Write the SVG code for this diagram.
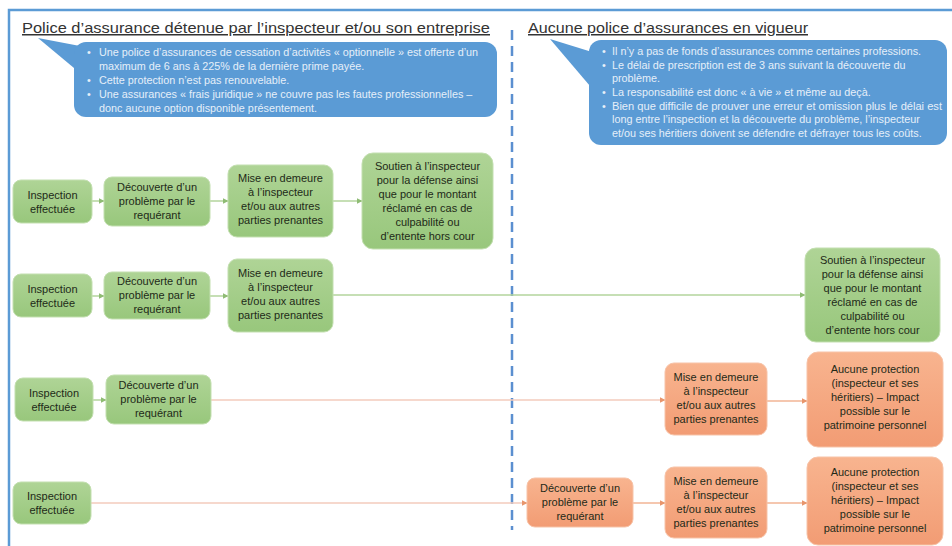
<svg xmlns="http://www.w3.org/2000/svg" width="952" height="546" viewBox="0 0 952 546">
<defs>
<marker id="ag" viewBox="0 0 6 6" refX="5.5" refY="3" markerWidth="6" markerHeight="6" markerUnits="userSpaceOnUse" orient="auto"><path d="M0,0 L6,3 L0,6 Z" fill="#8fbc74"/></marker>
<marker id="ao" viewBox="0 0 6 6" refX="5.5" refY="3" markerWidth="6" markerHeight="6" markerUnits="userSpaceOnUse" orient="auto"><path d="M0,0 L6,3 L0,6 Z" fill="#e8956c"/></marker>
<linearGradient id="gg" x1="0" y1="0" x2="0" y2="1"><stop offset="0" stop-color="#afd496"/><stop offset="1" stop-color="#98c77c"/></linearGradient>
<linearGradient id="go" x1="0" y1="0" x2="0" y2="1"><stop offset="0" stop-color="#f8b48f"/><stop offset="1" stop-color="#f29c74"/></linearGradient>
</defs>
<style>
.frame{stroke:#5b9bd5;stroke-width:2.5;fill:none}
.div{stroke:#5b8fd0;stroke-width:2.5;stroke-dasharray:10 6;fill:none}
.title{font-family:"Liberation Sans",Arial,sans-serif;font-size:15px;fill:#333333;text-decoration:underline}
.call{fill:#5b9bd5}
.ct{font-family:"Liberation Sans",Arial,sans-serif;font-size:10.8px;fill:#e6eff9}
.ng{fill:url(#gg);stroke:#c3dfb0;stroke-width:1}
.no{fill:url(#go);stroke:#f7c3a8;stroke-width:1}
.nt{font-family:"Liberation Sans",Arial,sans-serif;font-size:11px;fill:#1e2a18;text-anchor:middle}
.lg{stroke:#b3d49c;stroke-width:1.5;fill:none;marker-end:url(#ag)}
.lp{stroke:#f3cbbd;stroke-width:1.5;fill:none;marker-end:url(#ao)}
.lo{stroke:#f2b595;stroke-width:1.5;fill:none;marker-end:url(#ao)}
</style>
<rect width="952" height="546" fill="#ffffff"/>
<path class="frame" d="M9,546 L9,10 L952,10"/>
<line class="div" x1="512" y1="30" x2="512" y2="530"/>

<g id="title-left"><text class="title" x="22" y="33" textLength="468" lengthAdjust="spacingAndGlyphs">Police d’assurance détenue par l’inspecteur et/ou son entreprise</text></g>
<g id="title-right"><text class="title" x="528" y="33" textLength="280" lengthAdjust="spacingAndGlyphs">Aucune police d’assurances en vigueur</text></g>

<g id="callout-left">
<polygon class="call" points="38,38 80,46 90,60 74,68"/>
<rect class="call" x="74" y="42" width="423" height="75" rx="12"/>
<text class="ct" x="87" y="56">•</text><text class="ct" x="99" y="56">Une police d’assurances de cessation d’activités « optionnelle » est offerte d’un</text>
<text class="ct" x="99" y="70">maximum de 6 ans à 225% de la dernière prime payée.</text>
<text class="ct" x="87" y="84">•</text><text class="ct" x="99" y="84">Cette protection n’est pas renouvelable.</text>
<text class="ct" x="87" y="98">•</text><text class="ct" x="99" y="98">Une assurances « frais juridique » ne couvre pas les fautes professionnelles –</text>
<text class="ct" x="99" y="112">donc aucune option disponible présentement.</text>
</g>

<g id="callout-right">
<polygon class="call" points="550,39 592,52 600,70 590,86"/>
<rect class="call" x="589" y="40" width="358" height="105" rx="12"/>
<text class="ct" x="602" y="55">•</text><text class="ct" x="612" y="55">Il n’y a pas de fonds d’assurances comme certaines professions.</text>
<text class="ct" x="602" y="69">•</text><text class="ct" x="612" y="69">Le délai de prescription est de 3 ans suivant la découverte du</text>
<text class="ct" x="612" y="82">problème.</text>
<text class="ct" x="602" y="96">•</text><text class="ct" x="612" y="96">La responsabilité est donc « à vie » et même au deçà.</text>
<text class="ct" x="602" y="110">•</text><text class="ct" x="612" y="110" textLength="330" lengthAdjust="spacingAndGlyphs">Bien que difficile de prouver une erreur et omission plus le délai est</text>
<text class="ct" x="612" y="123">long entre l’inspection et la découverte du problème, l’inspecteur</text>
<text class="ct" x="612" y="137">et/ou ses héritiers doivent se défendre et défrayer tous les coûts.</text>
</g>

<g id="connectors">
<line class="lg" x1="92" y1="201" x2="104" y2="201"/>
<line class="lg" x1="210" y1="201" x2="228" y2="201"/>
<line class="lg" x1="333" y1="201" x2="362" y2="201"/>
<line class="lg" x1="92" y1="296" x2="104" y2="296"/>
<line class="lg" x1="210" y1="296" x2="228" y2="296"/>
<line class="lg" x1="333" y1="295" x2="805" y2="295"/>
<line class="lg" x1="93" y1="400" x2="106" y2="400"/>
<line class="lp" x1="211" y1="400" x2="665" y2="400"/>
<line class="lo" x1="767" y1="401" x2="807" y2="401"/>
<line class="lp" x1="91" y1="503" x2="527" y2="503"/>
<line class="lo" x1="633" y1="503" x2="665" y2="503"/>
<line class="lo" x1="767" y1="503" x2="807" y2="503"/>
</g>

<g id="r1-inspection"><rect class="ng" x="13" y="180" width="79" height="43" rx="8"/>
<text class="nt" x="52.5" y="199">Inspection</text><text class="nt" x="52.5" y="213">effectuée</text></g>
<g id="r1-decouverte"><rect class="ng" x="104" y="177" width="106" height="49" rx="8"/>
<text class="nt" x="157" y="191">Découverte d’un</text><text class="nt" x="157" y="205">problème par le</text><text class="nt" x="157" y="219">requérant</text></g>
<g id="r1-mise"><rect class="ng" x="228" y="165" width="105" height="72" rx="9"/>
<text class="nt" x="280.5" y="182">Mise en demeure</text><text class="nt" x="280.5" y="196">à l’inspecteur</text><text class="nt" x="280.5" y="210">et/ou aux autres</text><text class="nt" x="280.5" y="224">parties prenantes</text></g>
<g id="r1-soutien"><rect class="ng" x="362" y="153" width="131" height="96" rx="11"/>
<text class="nt" x="427.5" y="170">Soutien à l’inspecteur</text><text class="nt" x="427.5" y="184">pour la défense ainsi</text><text class="nt" x="427.5" y="198">que pour le montant</text><text class="nt" x="427.5" y="212">réclamé en cas de</text><text class="nt" x="427.5" y="226">culpabilité ou</text><text class="nt" x="427.5" y="240">d’entente hors cour</text></g>

<g id="r2-inspection"><rect class="ng" x="13" y="274" width="79" height="43" rx="8"/>
<text class="nt" x="52.5" y="293">Inspection</text><text class="nt" x="52.5" y="307">effectuée</text></g>
<g id="r2-decouverte"><rect class="ng" x="104" y="272" width="106" height="47" rx="8"/>
<text class="nt" x="157" y="285">Découverte d’un</text><text class="nt" x="157" y="299">problème par le</text><text class="nt" x="157" y="313">requérant</text></g>
<g id="r2-mise"><rect class="ng" x="228" y="259" width="105" height="73" rx="9"/>
<text class="nt" x="280.5" y="277">Mise en demeure</text><text class="nt" x="280.5" y="291">à l’inspecteur</text><text class="nt" x="280.5" y="305">et/ou aux autres</text><text class="nt" x="280.5" y="319">parties prenantes</text></g>
<g id="r2-soutien"><rect class="ng" x="805" y="248" width="135" height="94" rx="11"/>
<text class="nt" x="872.5" y="264">Soutien à l’inspecteur</text><text class="nt" x="872.5" y="278">pour la défense ainsi</text><text class="nt" x="872.5" y="292">que pour le montant</text><text class="nt" x="872.5" y="306">réclamé en cas de</text><text class="nt" x="872.5" y="320">culpabilité ou</text><text class="nt" x="872.5" y="334">d’entente hors cour</text></g>

<g id="r3-inspection"><rect class="ng" x="15" y="378" width="78" height="43" rx="8"/>
<text class="nt" x="54" y="397">Inspection</text><text class="nt" x="54" y="411">effectuée</text></g>
<g id="r3-decouverte"><rect class="ng" x="106" y="375" width="105" height="49" rx="8"/>
<text class="nt" x="158.5" y="389">Découverte d’un</text><text class="nt" x="158.5" y="403">problème par le</text><text class="nt" x="158.5" y="417">requérant</text></g>
<g id="r3-mise"><rect class="no" x="665" y="363" width="102" height="72" rx="9"/>
<text class="nt" x="716" y="381">Mise en demeure</text><text class="nt" x="716" y="395">à l’inspecteur</text><text class="nt" x="716" y="409">et/ou aux autres</text><text class="nt" x="716" y="423">parties prenantes</text></g>
<g id="r3-aucune"><rect class="no" x="807" y="352" width="136" height="95" rx="11"/>
<text class="nt" x="875" y="373">Aucune protection</text><text class="nt" x="875" y="387">(inspecteur et ses</text><text class="nt" x="875" y="401">héritiers) – Impact</text><text class="nt" x="875" y="415">possible sur le</text><text class="nt" x="875" y="429">patrimoine personnel</text></g>

<g id="r4-inspection"><rect class="ng" x="13" y="482" width="78" height="42" rx="8"/>
<text class="nt" x="52" y="500">Inspection</text><text class="nt" x="52" y="514">effectuée</text></g>
<g id="r4-decouverte"><rect class="no" x="527" y="478" width="106" height="49" rx="8"/>
<text class="nt" x="580" y="492">Découverte d’un</text><text class="nt" x="580" y="506">problème par le</text><text class="nt" x="580" y="520">requérant</text></g>
<g id="r4-mise"><rect class="no" x="665" y="467" width="102" height="71" rx="9"/>
<text class="nt" x="716" y="485">Mise en demeure</text><text class="nt" x="716" y="499">à l’inspecteur</text><text class="nt" x="716" y="513">et/ou aux autres</text><text class="nt" x="716" y="527">parties prenantes</text></g>
<g id="r4-aucune"><rect class="no" x="807" y="457" width="136" height="88" rx="11"/>
<text class="nt" x="875" y="476">Aucune protection</text><text class="nt" x="875" y="490">(inspecteur et ses</text><text class="nt" x="875" y="504">héritiers) – Impact</text><text class="nt" x="875" y="518">possible sur le</text><text class="nt" x="875" y="532">patrimoine personnel</text></g>
</svg>
